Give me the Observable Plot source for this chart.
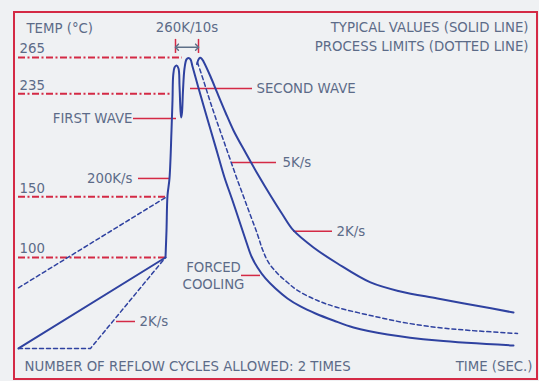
<!DOCTYPE html>
<html>
<head>
<meta charset="utf-8">
<script src="https://cdn.jsdelivr.net/npm/d3@7"></script>
<script src="https://cdn.jsdelivr.net/npm/@observablehq/plot@0.6"></script>
<style>
  html, body { margin: 0; padding: 0; background: #eff1f3; }
  #wrap { position: relative; width: 539px; height: 381px; overflow: hidden; }
  #border { position: absolute; left: 13px; top: 11px; width: 521px; height: 365px; border: 2.5px solid #d42a45; pointer-events: none; }
  svg { position: absolute; left: 0; top: 0; }
</style>
</head>
<body>
<div id="wrap"><div id="chart"></div><div id="border"></div></div>
<script>
// ---- data (time in s, temperature in °C) ----
const refTemps = [265, 235, 150, 100];
const refEndTimes = [82, 77, 74.5, 74];
const tickLabels = ["265", "235", "150", "100"];

// typical preheat (solid, straight)
const preTime = [0, 73.5];
const preTemp = [25, 100];

// typical profile: first wave, second wave, forced cooling (solid)
const mainTime = [73.5, 74, 74.5, 75.5, 76.5, 77, 77.35, 78, 79, 80, 80.5, 81, 81.35, 81.75, 82.25, 83, 84, 85, 86, 87, 89.5, 92.5, 96, 99.5, 103, 107, 111, 114, 116.5, 119.5, 123.5, 128.5, 134.5, 141, 148.5, 157.5, 167.5, 184.5, 209.5, 247.5];
const mainTemp = [100, 122.3, 151.1, 165.2, 204.8, 229.5, 250.2, 256.75, 258.4, 255.9, 241.9, 221.3, 215.5, 219.6, 237.8, 255.9, 263.4, 264.6, 263.4, 257.6, 242.7, 225.4, 205.6, 185.8, 166, 147, 127.2, 112.4, 100.8, 91.75, 82.7, 74.4, 66.2, 59.6, 53.8, 48.0, 42.25, 36.5, 31.5, 27.4];

// typical 2K/s cooling (solid)
const slowTime = [89.25, 89.9, 90.75, 91.6, 92.5, 96, 99.5, 103.5, 107.5, 113.5, 120, 126, 132, 137.5, 147.5, 159.5, 176, 191, 209.5, 228.5, 247.5];
const slowTemp = [259.5, 263, 264.7, 264, 261.7, 249.3, 235.3, 219.6, 204.8, 186.6, 167.65, 151.15, 135.5, 122.3, 108.25, 95.05, 79.4, 71.95, 66.2, 60.4, 54.6];

// process limit cooling 5K/s (dotted)
const limitTime = [89.5, 92.5, 95.5, 98.5, 102, 105.5, 109, 112.5, 116, 119.5, 122, 125, 129.5, 134.5, 139.5, 149.5, 159.5, 176, 192.5, 209.5, 226, 249.5];
const limitTemp = [260.9, 246.0, 230.35, 215.5, 199, 182.5, 166, 150.3, 134.65, 119, 106.6, 95.9, 86.8, 79.4, 72.8, 64.5, 58.75, 52.15, 46.4, 42.25, 39.8, 37.3];

// process limit preheat (dotted)
const preLowTime = [0, 36, 73.5];
const preLowTemp = [25, 25, 100];
const preHighTime = [0, 74.5];
const preHighTemp = [75, 150.5];

// annotations
const labelText = ["FIRST WAVE", "SECOND WAVE", "200K/s", "5K/s", "2K/s", "FORCED", "COOLING", "2K/s"];
const labelTime = [57, 119, 57, 132, 159, 97.5, 97.5, 60.5];
const labelTemp = [214.7, 239.4, 165.2, 178.4, 121.5, 91.7, 77.7, 47.2];
const labelAnchor = ["end", "start", "end", "start", "start", "middle", "middle", "start"];
const pointerFrom = [57.5, 86, 60, 107, 137.5, 111.5, 49];
const pointerTo = [79, 117, 76, 129, 157, 121, 58.5];
const pointerTemp = [214.7, 239.4, 165.2, 178.4, 121.7, 85.2, 47.2];

const spanTimes = [78.5, 90];
const spanLow = 268.3, spanHigh = 279.9, spanArrowTemp = 273.5;

const titleLeft = "TEMP (°C)";
const spanLabel = "260K/10s";
const legendLines = ["TYPICAL VALUES (SOLID LINE)", "PROCESS LIMITS (DOTTED LINE)"];
const footLeft = "NUMBER OF REFLOW CYCLES ALLOWED: 2 TIMES";
const footRight = "TIME (SEC.)";

// ---- build ----
const zip = (ts, vs) => ts.map((t, i) => ({t, v: vs[i]}));
const BLUE = "#2f42a0", RED = "#d42a45", TXT = "#5c6b88";
const FONT = "'DejaVu Sans', sans-serif";

const refs = refTemps.map((v, i) => ({v, end: refEndTimes[i], label: tickLabels[i]}));
const labels = labelText.map((s, i) => ({s, t: labelTime[i], v: labelTemp[i], a: labelAnchor[i]}));
const pointers = pointerFrom.map((a, i) => ({a, b: pointerTo[i], v: pointerTemp[i]}));

const txt = {fill: TXT, fontSize: 13.3, fontFamily: FONT};
const dotted = {stroke: BLUE, strokeWidth: 1.5, strokeDasharray: "4,3"};

const chart = Plot.plot({
  width: 539,
  height: 381,
  margin: 0,
  style: {background: "transparent", overflow: "visible"},
  x: {domain: [0, 250], range: [18, 518], axis: null},
  y: {domain: [25, 295], range: [347.9, 20.6], axis: null},
  marks: [
    Plot.ruleY(refs, {y: "v", x1: 0, x2: "end", stroke: RED, strokeWidth: 2, strokeDasharray: "7,2.5,2,2.5"}),
    Plot.text(refs, {y: "v", x: 0.5, text: "label", textAnchor: "start", dy: -8.5, ...txt}),
    Plot.ruleY(pointers, {y: "v", x1: "a", x2: "b", stroke: RED, strokeWidth: 1.5}),
    Plot.line(zip(preLowTime, preLowTemp), {x: "t", y: "v", ...dotted}),
    Plot.line(zip(preHighTime, preHighTemp), {x: "t", y: "v", ...dotted}),
    Plot.line(zip(limitTime, limitTemp), {x: "t", y: "v", ...dotted, curve: "catmull-rom"}),
    Plot.line(zip(slowTime, slowTemp), {x: "t", y: "v", stroke: BLUE, strokeWidth: 2, curve: "catmull-rom"}),
    Plot.line(zip(preTime, preTemp), {x: "t", y: "v", stroke: BLUE, strokeWidth: 2}),
    Plot.line(zip(mainTime, mainTemp), {x: "t", y: "v", stroke: BLUE, strokeWidth: 2, curve: "catmull-rom"}),
    Plot.ruleX(spanTimes, {x: d => d, y1: spanLow, y2: spanHigh, stroke: RED, strokeWidth: 1.5}),
    Plot.line([{t: spanTimes[0] + 0.7, v: spanArrowTemp}, {t: spanTimes[1] - 0.7, v: spanArrowTemp}], {x: "t", y: "v", stroke: "#5e7088", strokeWidth: 1.5, markerStart: "arrow-reverse", markerEnd: "arrow"}),
    Plot.text(labels.filter(d => d.a === "start"), {x: "t", y: "v", text: "s", textAnchor: "start", ...txt}),
    Plot.text(labels.filter(d => d.a === "end"), {x: "t", y: "v", text: "s", textAnchor: "end", ...txt}),
    Plot.text(labels.filter(d => d.a === "middle"), {x: "t", y: "v", text: "s", textAnchor: "middle", ...txt}),
    Plot.text([titleLeft], {x: 4, y: 288.9, text: d => d, textAnchor: "start", ...txt}),
    Plot.text([spanLabel], {x: 84.25, y: 289.3, text: d => d, textAnchor: "middle", ...txt}),
    Plot.text(legendLines, {x: 255, y: (d, i) => [289.3, 274.1][i], text: d => d, textAnchor: "end", ...txt}),
    Plot.text([footLeft], {x: 3, y: 10.1, text: d => d, textAnchor: "start", ...txt}),
    Plot.text([footRight], {x: 257, y: 10.1, text: d => d, textAnchor: "end", ...txt})
  ]
});
document.getElementById("chart").appendChild(chart);
</script>
</body>
</html>
